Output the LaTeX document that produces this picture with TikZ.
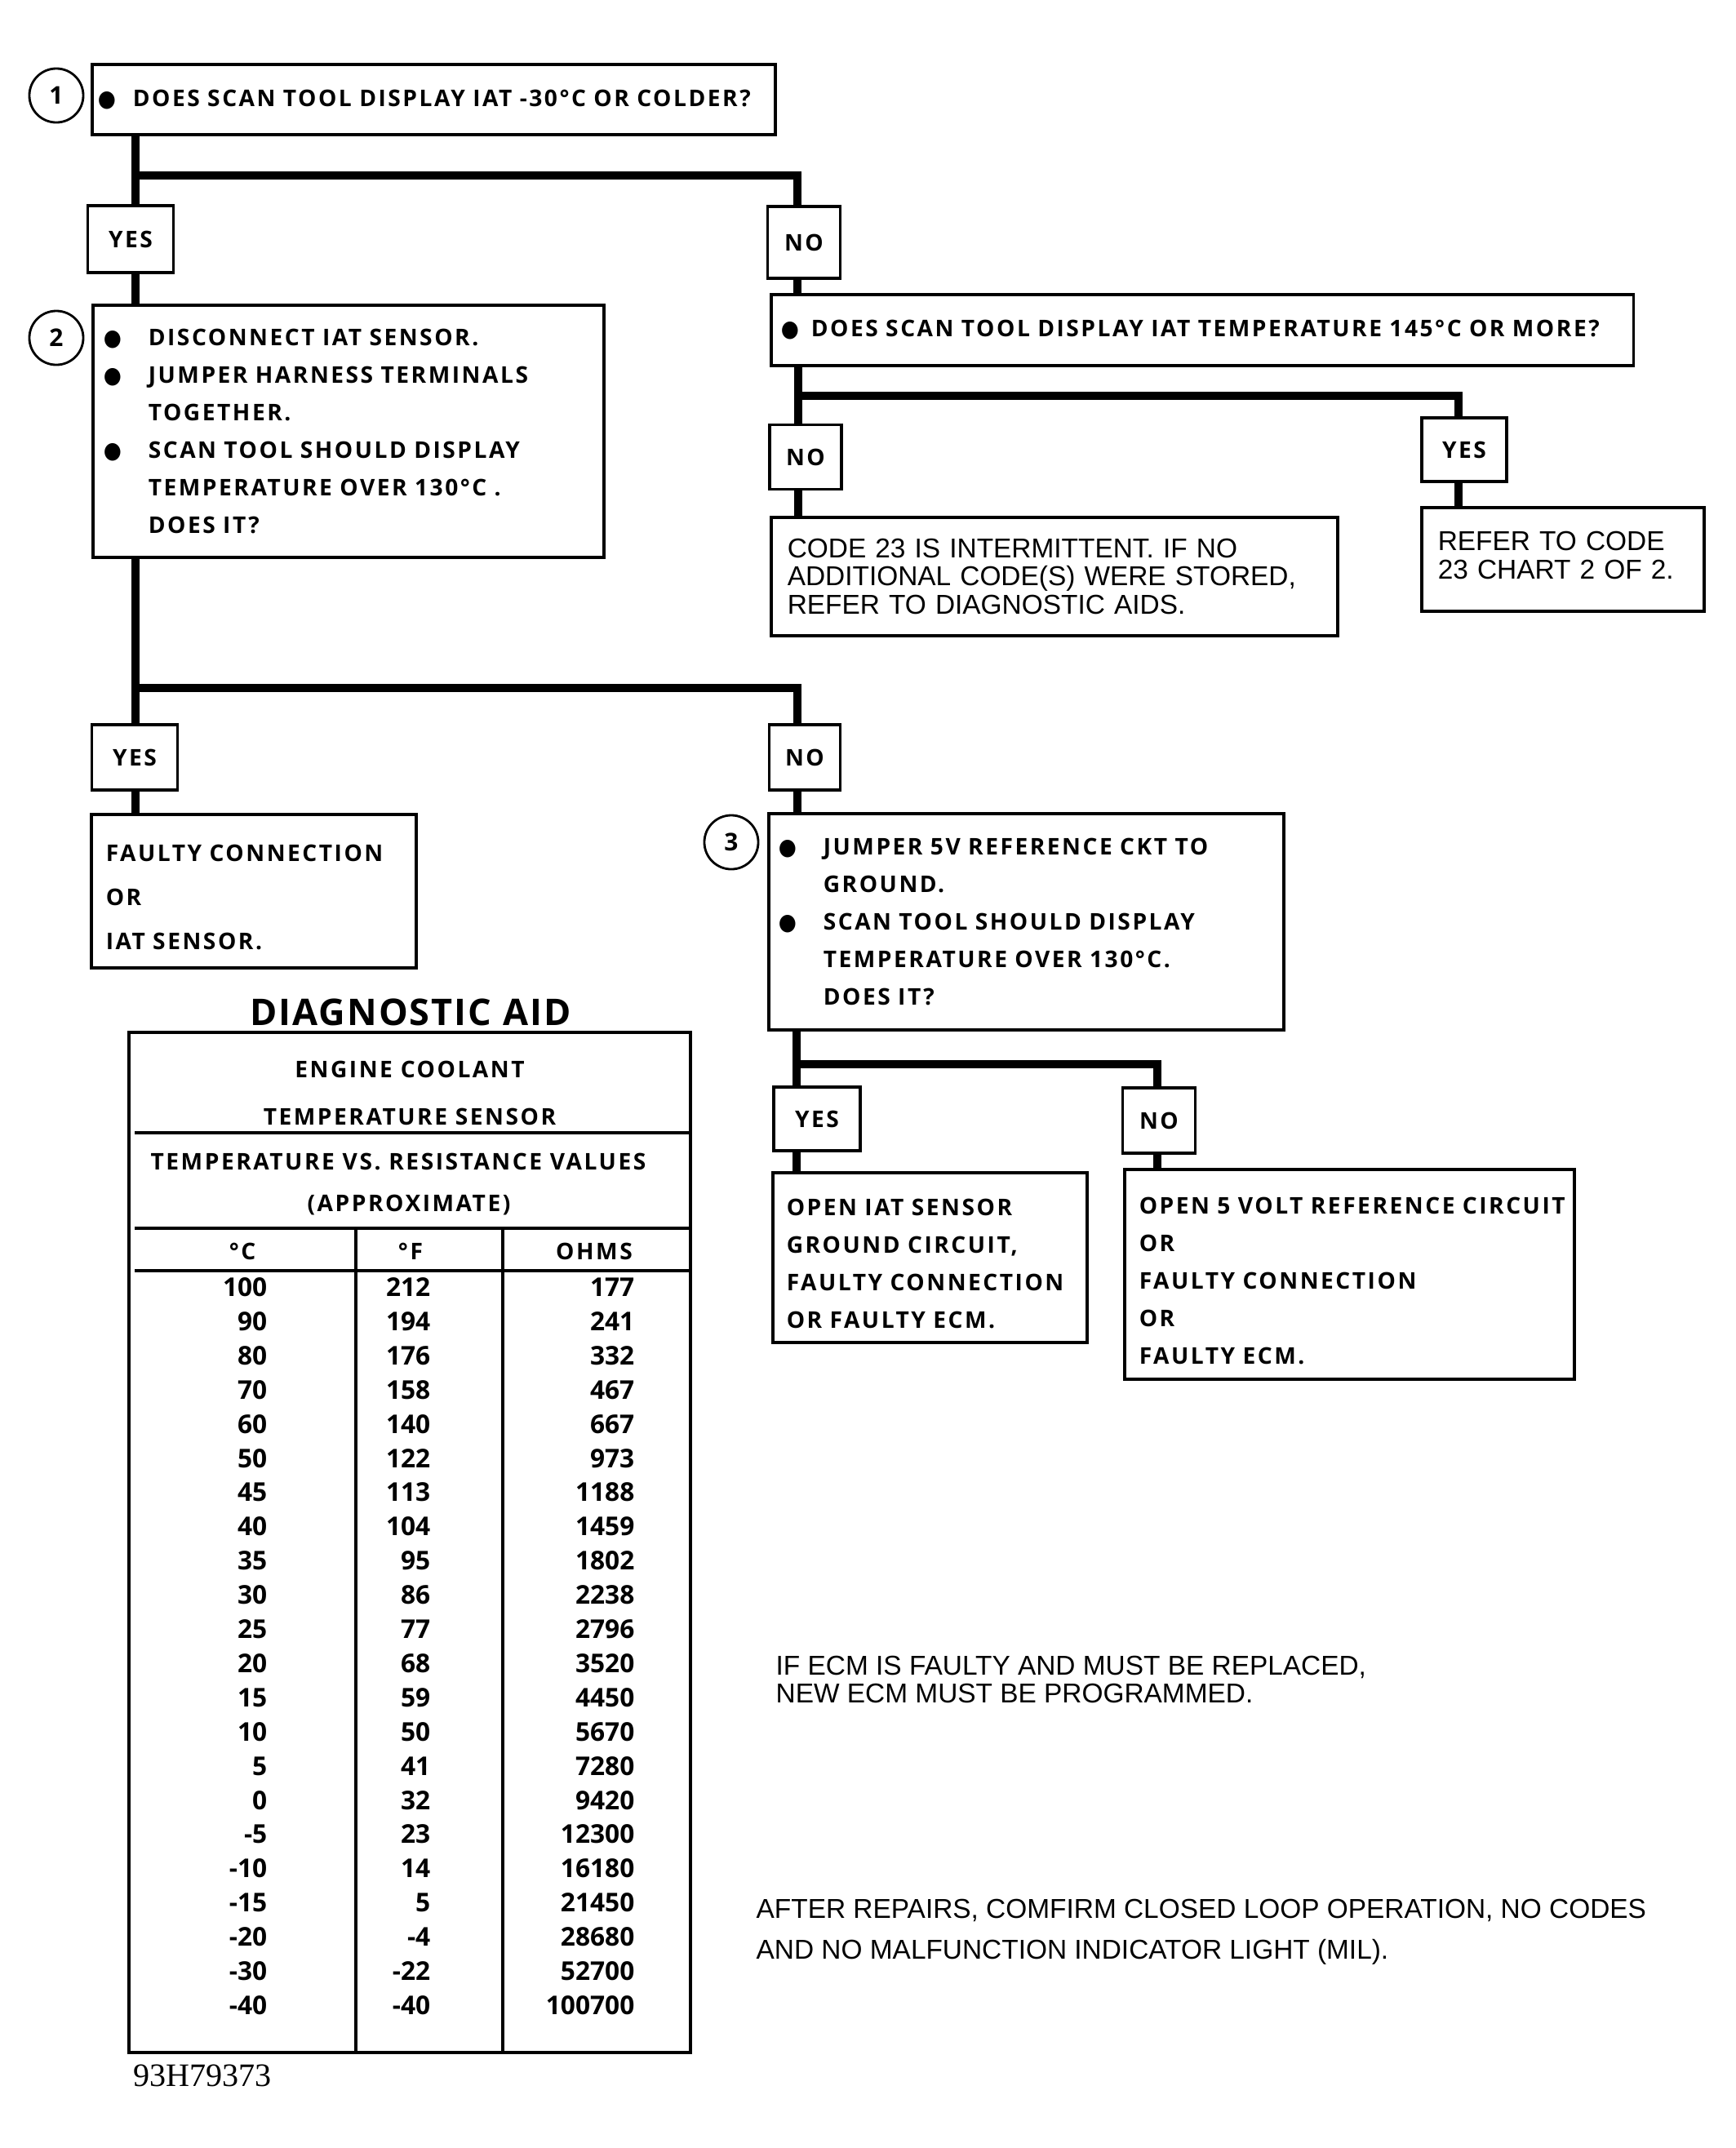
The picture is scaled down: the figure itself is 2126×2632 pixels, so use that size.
\documentclass[tikz,border=0pt]{standalone}
\usepackage{fontspec}
\setmainfont{Open Sans}
\newfontfamily\trackfont[LetterSpace=9]{Open Sans}
\newfontfamily\titlefont[LetterSpace=4.5]{Open Sans}
\newfontfamily\arialfont{Liberation Sans}
\newfontfamily\timesfont{Liberation Serif}
\newfontfamily\symfont{DejaVu Sans}

\newcommand*{\bul}[1][0.48cm]{\makebox[#1][l]{\hspace*{-0.07cm}\scalebox{0.9}[1]{\symfont ●}}}
\newcommand*{\ind}{\hspace*{0.48cm}}
\newcommand*{\lift}{\rule{0pt}{0.36cm}}

\begin{document}
\begin{tikzpicture}
[
	x=0.01cm, y=-0.01cm,
	flow/.style={line width=3pt},
	qbox/.style={draw,line width=1pt,anchor=north west,align=left,inner ysep=0pt,font=\trackfont\fontsize{8}{13.1}\selectfont\bfseries},
	ansbox/.style={draw,line width=1pt,inner sep=0pt,font=\trackfont\fontsize{8}{10}\selectfont\bfseries},
	notebox/.style={draw,line width=1pt,anchor=north west,align=left,inner ysep=0pt,font=\arialfont\fontsize{9.5}{9.8}\selectfont},
	stepnum/.style={circle,draw,line width=0.8pt,minimum size=0.66cm,inner sep=0pt,font=\fontsize{8.5}{10}\selectfont\bfseries},
	tline/.style={line width=1pt},
	tabtext/.style={font=\trackfont\fontsize{8}{10}\selectfont\bfseries,inner sep=0pt},
	num/.style={font=\fontsize{9}{10}\selectfont\bfseries,inner sep=0pt,anchor=base east}
]

	\useasboundingbox (0,0) rectangle (2126,2632);

	% step 1
	\node[qbox,text width=8.09cm,minimum height=0.86cm,inner xsep=0.14cm] (q1) at (111,77)
		{\mbox{\bul[0.36cm]DOES SCAN TOOL DISPLAY IAT -30°C OR COLDER?}};
	\node[stepnum] (s1) at (69,117) {1};
	\node[ansbox,minimum width=1.05cm,minimum height=0.82cm] (y1) at (160,293) {YES};
	\node[ansbox,minimum width=0.89cm,minimum height=0.88cm] (n1) at (985,297) {NO};

	% step 2
	\node[qbox,text width=5.86cm,minimum height=3.09cm,inner xsep=0.2cm] (b2) at (112,372)
		{\bul DISCONNECT IAT SENSOR.\\
		 \bul\mbox{JUMPER HARNESS TERMINALS}\\
		 \ind TOGETHER.\\
		 \bul\mbox{SCAN TOOL SHOULD DISPLAY}\\
		 \ind\mbox{TEMPERATURE OVER 130°C .}\\
		 \ind DOES IT?};
	\node[stepnum] (s2) at (69,414) {2};

	% high temperature question
	\node[qbox,text width=10.18cm,minimum height=0.87cm,inner xsep=0.19cm] (q2) at (943,359)
		{\mbox{\bul[0.30cm]DOES SCAN TOOL DISPLAY IAT TEMPERATURE 145°C OR MORE?}};
	\node[ansbox,minimum width=0.88cm,minimum height=0.79cm] (n2) at (987,560) {NO};
	\node[ansbox,minimum width=1.04cm,minimum height=0.78cm] (y2) at (1794,551) {YES};
	\node[notebox,text width=6.54cm,minimum height=1.45cm,inner xsep=0.2cm] (c23) at (943,632)
		{CODE 23 IS INTERMITTENT. IF NO\\ADDITIONAL CODE(S) WERE STORED,\\REFER TO DIAGNOSTIC AIDS.};
	\node[notebox,text width=3.06cm,minimum height=1.27cm,inner xsep=0.2cm] (ref) at (1740,620)
		{REFER TO CODE\\23 CHART 2 OF 2.\rule[-0.1cm]{0pt}{0.1cm}};

	% step 2 answers
	\node[ansbox,minimum width=1.05cm,minimum height=0.80cm] (y3) at (165,928) {YES};
	\node[ansbox,minimum width=0.87cm,minimum height=0.80cm] (n3) at (986,928) {NO};
	\node[qbox,text width=3.62cm,minimum height=1.88cm,inner xsep=0.18cm,font=\trackfont\fontsize{8}{15.4}\selectfont\bfseries] (fc) at (110,996)
		{\lift\mbox{FAULTY CONNECTION}\\OR\\IAT SENSOR.};

	% step 3
	\node[qbox,text width=5.93cm,minimum height=2.65cm,inner xsep=0.19cm] (b3) at (940,995)
		{\bul\mbox{JUMPER 5V REFERENCE CKT TO}\\
		 \ind GROUND.\\
		 \bul\mbox{SCAN TOOL SHOULD DISPLAY}\\
		 \ind\mbox{TEMPERATURE OVER 130°C.}\\
		 \ind DOES IT?};
	\node[stepnum] (s3) at (896,1032) {3};
	\node[ansbox,minimum width=1.06cm,minimum height=0.78cm] (y4) at (1001,1371) {YES};
	\node[ansbox,minimum width=0.89cm,minimum height=0.80cm] (n4) at (1420,1373) {NO};
	\node[qbox,text width=3.51cm,minimum height=2.08cm,inner xsep=0.17cm] (oi) at (945,1435)
		{\lift OPEN IAT SENSOR\\GROUND CIRCUIT,\\\mbox{FAULTY CONNECTION}\\OR FAULTY ECM.};
	\node[qbox,text width=5.15cm,minimum height=2.57cm,inner xsep=0.18cm] (o5) at (1376,1431)
		{\lift\mbox{OPEN 5 VOLT REFERENCE CIRCUIT}\\OR\\FAULTY CONNECTION\\OR\\FAULTY ECM.};

	% connectors
	\coordinate (t1) at (166,215);
	\coordinate (t2) at (977,215);
	\draw[flow] (q1.south -| t1) -- (y1.north -| t1);
	\draw[flow] (t1) -- (t2) -- (n1.north -| t2);
	\draw[flow] (y1.south -| t1) -- (b2.north -| t1);
	\draw[flow] (n1.south -| t2) -- (q2.north -| t2);

	\coordinate (t3) at (978,485);
	\coordinate (t4) at (1787,485);
	\draw[flow] (q2.south -| t3) -- (n2.north -| t3);
	\draw[flow] (t3) -- (t4) -- (y2.north -| t4);
	\draw[flow] (n2.south -| t3) -- (c23.north -| t3);
	\draw[flow] (y2.south -| t4) -- (ref.north -| t4);

	\coordinate (t5) at (166,843);
	\coordinate (t6) at (977,843);
	\draw[flow] (b2.south -| t5) -- (y3.north -| t5);
	\draw[flow] (t5) -- (t6) -- (n3.north -| t6);
	\draw[flow] (y3.south -| t5) -- (fc.north -| t5);
	\draw[flow] (n3.south -| t6) -- (b3.north -| t6);

	\coordinate (t7) at (976,1304);
	\coordinate (t8) at (1418,1304);
	\draw[flow] (b3.south -| t7) -- (y4.north -| t7);
	\draw[flow] (t7) -- (t8) -- (n4.north -| t8);
	\draw[flow] (y4.south -| t7) -- (oi.north -| t7);
	\draw[flow] (n4.south -| t8) -- (o5.north -| t8);

	% diagnostic aid table
	\node[font=\titlefont\fontsize{12.8}{15}\selectfont\bfseries,inner sep=0pt] (aid) at (503,1240) {DIAGNOSTIC AID};
	\draw[tline] (158,1265) rectangle (846,2515);
	\draw[tline] (165,1388) -- (846,1388);
	\draw[tline] (165,1505) -- (846,1505);
	\draw[tline] (165,1557) -- (846,1557);
	\draw[tline] (436,1505) -- (436,2515);
	\draw[tline] (616,1505) -- (616,2515);

	\node[tabtext] (th1) at (502,1310) {ENGINE COOLANT};
	\node[tabtext] (th2) at (502,1368) {TEMPERATURE SENSOR};
	\node[tabtext] (th3) at (488,1423) {TEMPERATURE VS. RESISTANCE VALUES};
	\node[tabtext] (th4) at (501,1477) {(APPROXIMATE)};
	\node[tabtext] (hc) at (297,1533) {°C};
	\node[tabtext] (hf) at (503,1533) {°F};
	\node[tabtext] (ho) at (728,1533) {OHMS};

	\foreach \c/\f/\o [count=\i from 0] in {100/212/177, 90/194/241, 80/176/332, 70/158/467,
		60/140/667, 50/122/973, 45/113/1188, 40/104/1459, 35/95/1802, 30/86/2238,
		25/77/2796, 20/68/3520, 15/59/4450, 10/50/5670, 5/41/7280, 0/32/9420,
		-5/23/12300, -10/14/16180, -15/5/21450, -20/-4/28680, -30/-22/52700, -40/-40/100700} {
		\node[num] (rc\i) at (328,{1588.5+41.9*\i}) {\c};
		\node[num] (rf\i) at (528,{1588.5+41.9*\i}) {\f};
		\node[num] (ro\i) at (778,{1588.5+41.9*\i}) {\o};
	}

	% notes
	\node[font=\arialfont\fontsize{9.5}{9.8}\selectfont,align=left,anchor=west,inner sep=0pt] (ecm) at (950,2058)
		{IF ECM IS FAULTY AND MUST BE REPLACED,\\NEW ECM MUST BE PROGRAMMED.};
	\node[font=\arialfont\fontsize{9.5}{14.2}\selectfont,align=left,anchor=west,inner sep=0pt] (after) at (926,2367)
		{AFTER REPAIRS, COMFIRM CLOSED LOOP OPERATION, NO CODES\\AND NO MALFUNCTION INDICATOR LIGHT (MIL).};
	\node[font=\timesfont\fontsize{11.4}{12}\selectfont,anchor=west,inner sep=0pt] (figid) at (163,2543) {93H79373};

\end{tikzpicture}
\end{document}
